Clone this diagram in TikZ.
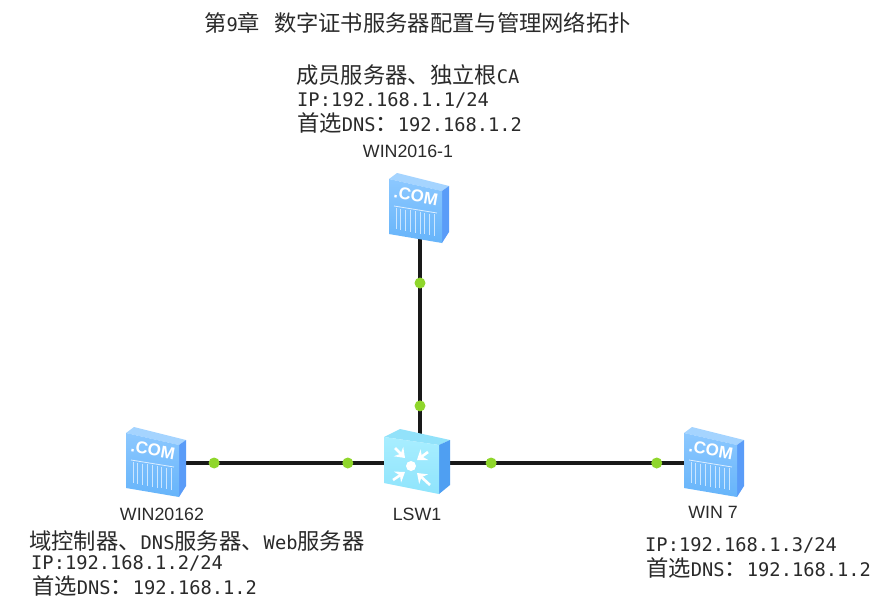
\documentclass[tikz,border=0pt]{standalone}
\usepackage{fontspec}
\setmainfont{Noto Sans CJK SC}
\newfontfamily\monof[Scale=0.84]{DejaVu Sans Mono}
\newfontfamily\labelf{Liberation Sans}
\usetikzlibrary{arrows.meta}
\definecolor{portgreen}{HTML}{8FD62B}
\definecolor{textgray}{HTML}{2A2A2A}
\definecolor{comtop}{HTML}{A5D4FF}
\definecolor{comside}{HTML}{5A9CF8}
\definecolor{comhi}{HTML}{8CC8FF}
\definecolor{comlo}{HTML}{66B4FA}
\definecolor{swtop}{HTML}{92E2FA}
\definecolor{swside}{HTML}{4F9FF2}
\definecolor{swhi}{HTML}{A8EEFF}
\definecolor{swlo}{HTML}{8FE4FC}
\tikzset{
    device/.style={minimum width=56pt, minimum height=58pt, inner sep=0pt},
    switchbox/.style={minimum width=56pt, minimum height=56pt, inner sep=0pt},
    link/.style={line width=3.2pt, black!90},
    portdot/.style={circle, fill=portgreen, minimum size=11pt, inner sep=0pt},
    devname/.style={text=textgray, inner sep=0pt, font=\labelf\fontsize{17.8}{20}\selectfont},
    note/.style={anchor=west, text=textgray, inner sep=0pt, font=\fontsize{22.3}{24}\selectfont},
    pics/comicon/.style={code={
        \fill[comtop] (-23,-36)--(29,-23)--(22,-18)--(-31,-30)--cycle;
        \fill[comside] (29,-23)--(29,23)--(22,34)--(22,-18)--cycle;
        \shade[top color=comhi, bottom color=comlo] (-31,-30)--(22,-18)--(22,34)--(-31,25)--cycle;
        \draw[white!70!comhi, line width=.8pt] (-26,-3)--(17,4);
        % the bars of the front
        \foreach \i in {0,...,8}{
            \draw[white!55!comhi, line width=.7pt] (-24+\i*4.8,-1+\i*.8)--(-24+\i*4.8,20+\i*.9);
        }
        \node[rotate=-10, text=white, inner sep=0pt, font=\labelf\bfseries\fontsize{17}{18}\selectfont] (-com) at (-4,-13) {.COM};
    }},
    pics/swicon/.style={code={
        \fill[swtop] (-20,-34)--(30,-23)--(19,-18)--(-36,-26)--cycle;
        \fill[swside] (30,-23)--(30,22)--(19,31)--(19,-18)--cycle;
        \shade[top color=swhi, bottom color=swlo] (-36,-26)--(19,-18)--(19,31)--(-36,20)--cycle;
        \foreach \a/\b/\c/\d in {-25/-15/-15/-5, 8/-11/-3/-3, -27/17/-15/9, 10/22/-3/10}{
            \draw[white, line width=2.6pt, -{Stealth[length=9pt,width=13pt]}] (\a,\b)--(\c,\d);
        }
        \fill[white] (-9,3) circle (5);
    }}
}
\begin{document}
\begin{tikzpicture}[x=1pt, y=-1pt]
    \useasboundingbox[fill=white] (0,0) rectangle (878,599);
    \node[device] (win1) at (420,209) {};
    \node[device] (win2) at (157,463) {};
    \node[device] (win7) at (715,463) {};
    \node[switchbox] (lsw1) at (420,463) {};
    % links with their two port dots
    \draw[link] (win1.south)--(lsw1.north)
        node[portdot, pos=.228] (p1) {} node[portdot, pos=.853] (p2) {};
    \draw[link] (win2.east)--(lsw1.west)
        node[portdot, pos=.140] (p3) {} node[portdot, pos=.787] (p4) {};
    \draw[link] (lsw1.east)--(win7.west)
        node[portdot, pos=.180] (p5) {} node[portdot, pos=.874] (p6) {};
    \pic (icon1) at (win1) {comicon};
    \pic (icon2) at (win2) {comicon};
    \pic (icon7) at (win7) {comicon};
    \pic (iconsw) at (lsw1) {swicon};

    \node[devname] (name1) at (408,151) {WIN2016-1};
    \node[devname] (name2) at (162,514) {WIN20162};
    \node[devname] (name7) at (713,512) {WIN 7};
    \node[devname] (namesw) at (417,514) {LSW1};

    \node[note] (title) at (204,23) {第{\monof 9}章\hspace{14pt}数字证书服务器配置与管理网络拓扑};

    \node[note] (role1) at (296,75) {成员服务器、独立根{\monof CA}};
    \node[note] (ip1) at (297,100) {\monof IP:192.168.1.1/24};
    \node[note] (dns1) at (297,123) {首选{\monof DNS}：{\monof 192.168.1.2}};

    \node[note] (role2) at (29,541) {域控制器、{\monof DNS}服务器、{\monof Web}服务器};
    \node[note] (ip2) at (31,563) {\monof IP:192.168.1.2/24};
    \node[note] (dns2) at (32,586) {首选{\monof DNS}：{\monof 192.168.1.2}};

    \node[note] (ip7) at (645,545) {\monof IP:192.168.1.3/24};
    \node[note] (dns7) at (646,568) {首选{\monof DNS}：{\monof 192.168.1.2}};
\end{tikzpicture}
\end{document}
